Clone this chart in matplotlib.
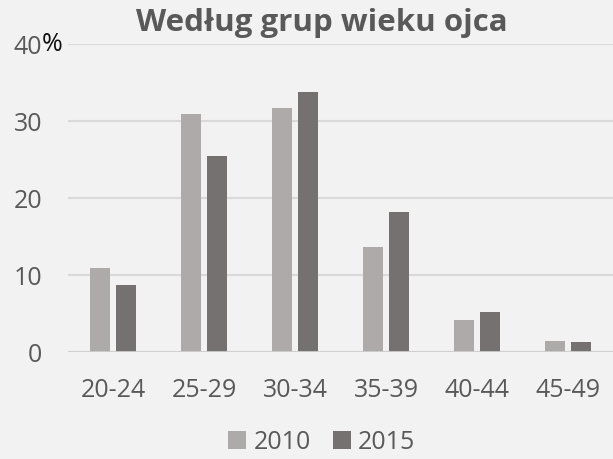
import matplotlib
matplotlib.use("Agg")
import matplotlib.pyplot as plt
import numpy as np

categories = ["20-24", "25-29", "30-34", "35-39", "40-44", "45-49"]
values_2010 = [10.9, 30.9, 31.7, 13.6, 4.2, 1.4]
values_2015 = [8.7, 25.4, 33.7, 18.2, 5.2, 1.3]
series_names = ["2010", "2015"]
yticks = [0, 10, 20, 30, 40]

plt.rcParams["font.family"] = ["Open Sans", "DejaVu Sans"]
BG = "#f2f2f2"
TXT = "#595959"
C10 = "#aeaaa9"
C15 = "#757170"

fig = plt.figure(figsize=(6.13, 4.6), dpi=100, facecolor=BG)
ax = fig.add_axes([68 / 613, 107 / 460, 545.5 / 613, 308.3 / 460], facecolor=BG)

x = np.arange(len(categories))
w = 0.22
off = 0.143
ax.bar(x - off, values_2010, w, color=C10, label=series_names[0], zorder=3)
ax.bar(x + off, values_2015, w, color=C15, label=series_names[1], zorder=3)

ax.set_xlim(-0.5, len(categories) - 0.5)
ax.set_ylim(0, 40)
ax.set_yticks(yticks)
ax.set_yticklabels([str(v) for v in yticks])
ax.set_xticks(x)
ax.set_xticklabels(categories)
ax.grid(axis="y", color="#d9d9d9", lw=1.5, zorder=0)
ax.axhline(0, color="#d0d0d0", lw=2, zorder=4)
for s in ax.spines.values():
    s.set_visible(False)
ax.tick_params(length=0, labelsize=18, colors=TXT)
ax.tick_params(axis="y", pad=18.5)
ax.tick_params(axis="x", pad=18)

fig.text(42 / 613, 1 - 44.7 / 460, "%", fontsize=18, color="#111111",
         ha="left", va="center")

fig.text(0.525, 1 - 23 / 460, "Według grup wieku ojca", fontsize=22.5,
         fontweight="bold", color=TXT, ha="center", va="center")

leg = fig.legend(loc="center", bbox_to_anchor=(0.525, 1 - 443 / 460), ncol=2,
                 frameon=False, fontsize=18, handlelength=0.7, handleheight=0.7,
                 handletextpad=0.3, columnspacing=0.9, labelcolor=TXT)

fig.savefig("out.png", dpi=100, facecolor=BG)
